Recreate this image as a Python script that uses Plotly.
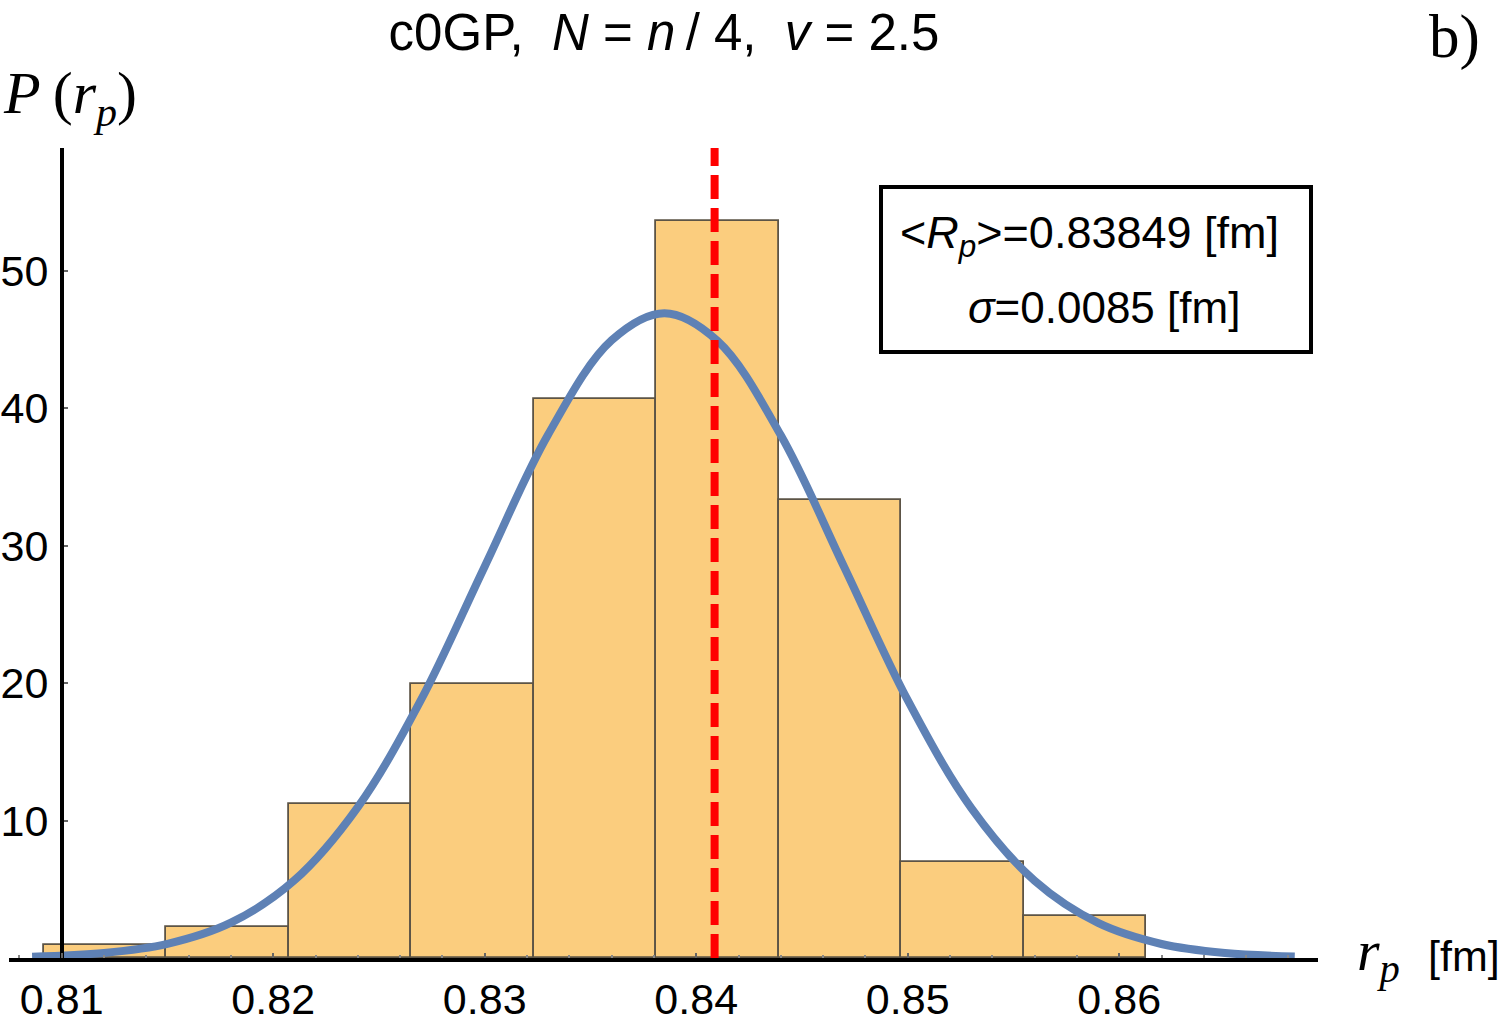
import plotly.graph_objects as go

# ---------------- data ----------------
bin_edges = [0.80916, 0.81495, 0.82074, 0.82653, 0.83232, 0.83811,
             0.84390, 0.84969, 0.85548, 0.86127]
bin_heights = [0.93, 2.24, 11.24, 19.96, 40.7, 53.65, 33.3, 6.97, 3.04]

curve_x = [0.8086, 0.812, 0.815, 0.818, 0.821, 0.824, 0.827, 0.830, 0.833,
           0.836, 0.8385, 0.841, 0.844, 0.847, 0.850, 0.853, 0.856, 0.859,
           0.862, 0.865, 0.8683]
curve_y = [0.10, 0.37, 1.03, 2.57, 5.65, 10.98, 18.82, 28.5, 38.1,
           44.96, 46.93, 44.93, 38.04, 28.44, 18.76, 10.93, 5.62, 2.55,
           1.02, 0.36, 0.11]

ref_line_x = 0.84087

x_tick_vals = [0.81, 0.82, 0.83, 0.84, 0.85, 0.86]
x_tick_text = ["0.81", "0.82", "0.83", "0.84", "0.85", "0.86"]
y_tick_vals = [10, 20, 30, 40, 50]
y_tick_text = ["10", "20", "30", "40", "50"]

title_text = "c0GP,\u00a0\u00a0<i>N</i> = <i>n</i>\u2009/\u00a04,\u00a0\u00a0<i>v</i> = 2.5"
legend_line1 = "&lt;<i>R</i><sub><i>p</i></sub>&gt;=0.83849 [fm]"
legend_line2 = "<i>σ</i>=0.0085 [fm]"

# ---------------- geometry ----------------
W, H = 1500, 1025
L, R, T, B = 9, 182, 148, 67
plot_w = W - L - R
plot_h = H - T - B
x_range = [0.807508, 0.807508 + plot_w / 21150.0]
y_range = [0, plot_h / 13.74]


def px(xp):
    return (xp - L) / plot_w


def py(yp):
    return 1 - (yp - T) / plot_h


SANS = "Liberation Sans, Arial, Helvetica, sans-serif"
SERIF = "Liberation Serif, Times New Roman, serif"

centers = [(a + b) / 2 for a, b in zip(bin_edges[:-1], bin_edges[1:])]
widths = [(b - a) for a, b in zip(bin_edges[:-1], bin_edges[1:])]

fig = go.Figure()
fig.add_trace(go.Bar(
    x=centers, y=bin_heights, width=widths,
    marker=dict(color="#FBCD7E", line=dict(color="#5C5446", width=1.8)),
    showlegend=False, hoverinfo="skip",
))
fig.add_trace(go.Scatter(
    x=curve_x, y=curve_y, mode="lines",
    line=dict(color="#5E81B5", width=8, shape="spline", smoothing=1.0),
    showlegend=False, hoverinfo="skip",
))

fig.add_shape(type="line", xref="x", yref="y", x0=ref_line_x, x1=ref_line_x,
              y0=y_range[0], y1=y_range[1], layer="above",
              line=dict(color="#FF0000", width=8, dash="24px,9px"))

# legend box
fig.add_shape(type="rect", xref="paper", yref="paper",
              x0=px(881), x1=px(1311), y0=py(352), y1=py(187),
              line=dict(color="black", width=4), fillcolor="rgba(255,255,255,0)",
              layer="above")

ann = []
ann.append(dict(text=legend_line1, x=px(1089), y=py(235), xref="paper", yref="paper",
                xanchor="center", yanchor="middle", showarrow=False,
                font=dict(family=SANS, size=45, color="black")))
ann.append(dict(text=legend_line2, x=px(1104), y=py(307), xref="paper", yref="paper",
                xanchor="center", yanchor="middle", showarrow=False,
                font=dict(family=SANS, size=44, color="black")))
ann.append(dict(text="b)", x=px(1455), y=py(37), xref="paper", yref="paper",
                xanchor="center", yanchor="middle", showarrow=False,
                font=dict(family=SERIF, size=61, color="black")))
ann.append(dict(text="<i>P</i>\u2009(<i>r</i><sub><i>p</i></sub>)", x=px(1), y=py(98),
                xref="paper", yref="paper", xanchor="left", yanchor="middle",
                showarrow=False, font=dict(family=SERIF, size=60, color="black")))
ann.append(dict(text="<i>r</i><sub><i>p</i></sub>", x=px(1355), y=py(954),
                xref="paper", yref="paper", xanchor="left", yanchor="middle",
                showarrow=False, font=dict(family=SERIF, size=58, color="black")))
ann.append(dict(text="[fm]", x=px(1426), y=py(956),
                xref="paper", yref="paper", xanchor="left", yanchor="middle",
                showarrow=False, font=dict(family=SANS, size=43, color="black")))

fig.update_layout(
    width=W, height=H,
    margin=dict(l=L, r=R, t=T, b=B, pad=0, autoexpand=False),
    paper_bgcolor="white", plot_bgcolor="white",
    bargap=0,
    title=dict(text=title_text, x=664 / W, y=1 - 32 / H, xref="container", yref="container",
               xanchor="center", yanchor="middle",
               font=dict(family=SANS, size=51, color="black")),
    annotations=ann,
    xaxis=dict(range=x_range, showline=True, linecolor="black", linewidth=4,
               showgrid=False, zeroline=False, automargin=False,
               tickmode="array", tickvals=x_tick_vals, ticktext=x_tick_text,
               ticks="inside", ticklen=5, tickwidth=2, tickcolor="#666666",
               tickfont=dict(family=SANS, size=43, color="black"),
               ticklabelstandoff=0,
               minor=dict(ticks="inside", ticklen=3, tickwidth=2, tickcolor="#888888",
                          tick0=0.81, dtick=0.002, showgrid=False)),
    yaxis=dict(range=y_range, anchor="free", position=px(62), automargin=False,
               showline=True, linecolor="black", linewidth=4,
               showgrid=False, zeroline=False,
               tickmode="array", tickvals=y_tick_vals, ticktext=y_tick_text,
               ticks="inside", ticklen=4, tickwidth=2, tickcolor="#666666",
               tickfont=dict(family=SANS, size=43, color="black"),
               ticklabelstandoff=3),
)

fig.write_html(
    "out.html",
    config={"displayModeBar": False},
    post_script="document.body.style.margin='0px';document.body.style.overflow='hidden';",
)
